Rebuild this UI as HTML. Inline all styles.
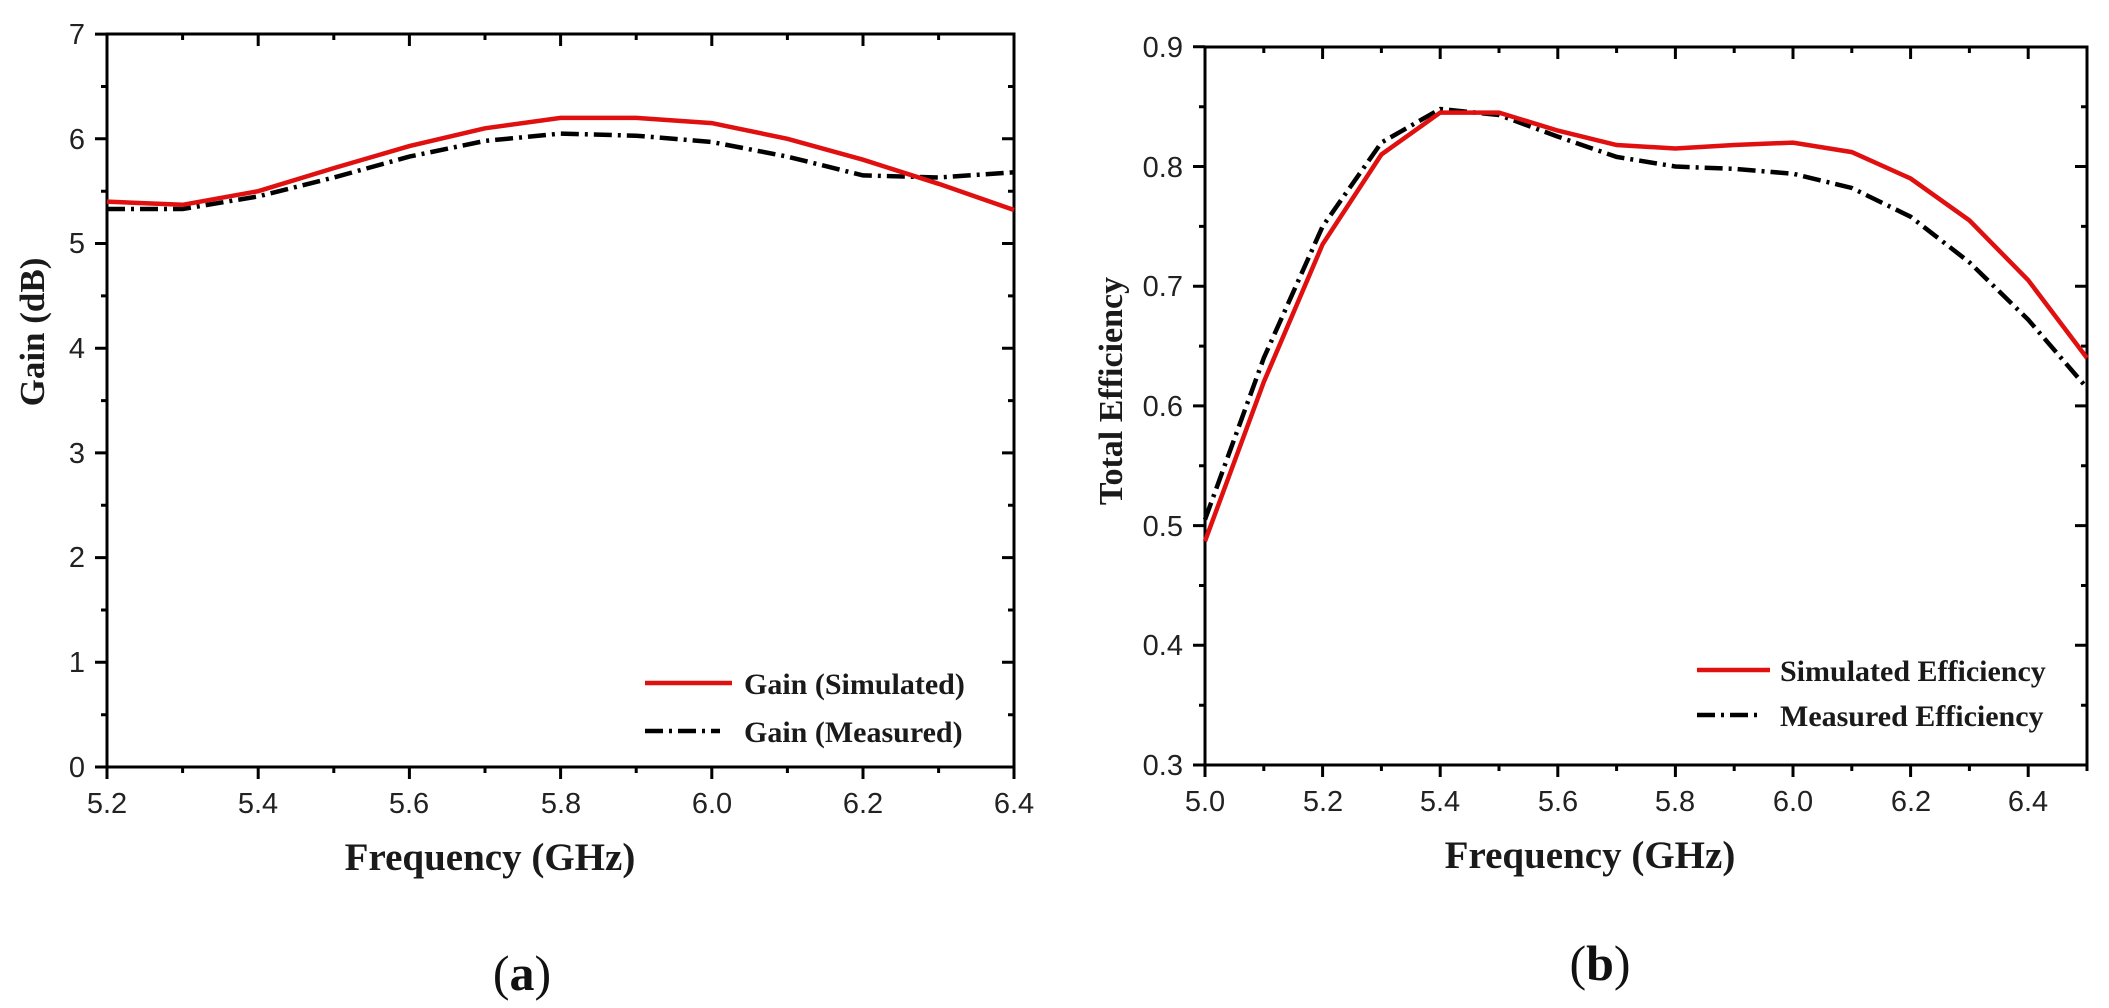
<!DOCTYPE html>
<html><head><meta charset="utf-8"><style>
html,body{margin:0;padding:0;background:#fff}
svg{display:block}
.t{font-family:"Liberation Sans",Arial,sans-serif;font-size:29px;fill:#222}
.b{font-family:"Liberation Serif","Times New Roman",serif;font-weight:bold;fill:#1a1a1a}
</style></head><body>
<svg width="2109" height="1008" viewBox="0 0 2109 1008" xmlns="http://www.w3.org/2000/svg">
<!-- LEFT PLOT -->
<g fill="none" stroke="#000" stroke-width="3">
<rect x="107" y="34" width="907" height="733"/>
<path d="M95 767H107M95 662.3H107M95 557.6H107M95 452.9H107M95 348.2H107M95 243.5H107M95 138.8H107M95 34.1H107
M101 714.7H107M101 610H107M101 505.3H107M101 400.6H107M101 295.9H107M101 191.2H107M101 86.5H107
M1014 662.3H1002M1014 557.6H1002M1014 452.9H1002M1014 348.2H1002M1014 243.5H1002M1014 138.8H1002
M1014 714.7H1008M1014 610H1008M1014 505.3H1008M1014 400.6H1008M1014 295.9H1008M1014 191.2H1008M1014 86.5H1008
M107 767V779M258.2 767V779M409.4 767V779M560.6 767V779M711.8 767V779M863 767V779M1014 767V779
M182.6 767V773M333.8 767V773M485 767V773M636.2 767V773M787.4 767V773M938.6 767V773
M258.2 34V46M409.4 34V46M560.6 34V46M711.8 34V46M863 34V46
M182.6 34V40M333.8 34V40M485 34V40M636.2 34V40M787.4 34V40M938.6 34V40"/>
</g>
<g class="t" text-anchor="end">
<text x="85" y="777">0</text><text x="85" y="672">1</text><text x="85" y="567">2</text><text x="85" y="463">3</text><text x="85" y="358">4</text><text x="85" y="253">5</text><text x="85" y="149">6</text><text x="85" y="44">7</text>
</g>
<g class="t" text-anchor="middle">
<text x="107" y="813">5.2</text><text x="258" y="813">5.4</text><text x="409" y="813">5.6</text><text x="561" y="813">5.8</text><text x="712" y="813">6.0</text><text x="863" y="813">6.2</text><text x="1014" y="813">6.4</text>
</g>
<polyline fill="none" stroke="#000" stroke-width="4.5" stroke-dasharray="18,6,3,6" points="107,209 182.6,209 258.2,196.4 333.8,177.5 409.4,156.6 485,140.9 560.6,133.6 636.2,135.7 711.8,142 787.4,156.6 863,175.4 938.6,177.5 1014,172.3"/>
<polyline fill="none" stroke="#e01010" stroke-width="4.5" points="107,201.6 182.6,204.8 258.2,191.2 333.8,168.1 409.4,146.1 485,128.3 560.6,117.9 636.2,117.9 711.8,123.1 787.4,138.8 863,159.7 938.6,183.8 1014,210"/>
<line x1="645" y1="683" x2="732" y2="683" stroke="#e01010" stroke-width="4.5"/>
<line x1="645" y1="731" x2="720" y2="731" stroke="#000" stroke-width="4.5" stroke-dasharray="18,6,3,6"/>
<text class="b" x="744" y="694" font-size="30">Gain (Simulated)</text>
<text class="b" x="744" y="742" font-size="30">Gain (Measured)</text>
<text class="b" x="490" y="870" font-size="39" text-anchor="middle">Frequency (GHz)</text>
<text class="b" x="0" y="0" font-size="35" text-anchor="middle" transform="translate(44,332) rotate(-90)">Gain (dB)</text>
<text x="522" y="990" font-size="50" text-anchor="middle" font-family="'Liberation Serif',serif" fill="#111">(<tspan font-weight="bold">a</tspan>)</text>

<!-- RIGHT PLOT -->
<g fill="none" stroke="#000" stroke-width="3">
<rect x="1205" y="47" width="882" height="718"/>
<path d="M1193 765H1205M1193 645.3H1205M1193 525.6H1205M1193 405.9H1205M1193 286.2H1205M1193 166.5H1205M1193 46.8H1205
M1199 705.2H1205M1199 585.5H1205M1199 465.8H1205M1199 346.1H1205M1199 226.4H1205M1199 106.7H1205
M2087 645.3H2075M2087 525.6H2075M2087 405.9H2075M2087 286.2H2075M2087 166.5H2075
M2087 705.2H2081M2087 585.5H2081M2087 465.8H2081M2087 346.1H2081M2087 226.4H2081M2087 106.7H2081
M1205 765V777M1322.6 765V777M1440.2 765V777M1557.8 765V777M1675.4 765V777M1793 765V777M1910.6 765V777M2028.2 765V777
M1263.8 765V771M1381.4 765V771M1499 765V771M1616.6 765V771M1734.2 765V771M1851.8 765V771M1969.4 765V771M2087 765V771
M1322.6 47V59M1440.2 47V59M1557.8 47V59M1675.4 47V59M1793 47V59M1910.6 47V59M2028.2 47V59
M1263.8 47V53M1381.4 47V53M1499 47V53M1616.6 47V53M1734.2 47V53M1851.8 47V53M1969.4 47V53"/>
</g>
<g class="t" text-anchor="end">
<text x="1183" y="775">0.3</text><text x="1183" y="655">0.4</text><text x="1183" y="536">0.5</text><text x="1183" y="416">0.6</text><text x="1183" y="296">0.7</text><text x="1183" y="177">0.8</text><text x="1183" y="57">0.9</text>
</g>
<g class="t" text-anchor="middle">
<text x="1205" y="811">5.0</text><text x="1323" y="811">5.2</text><text x="1440" y="811">5.4</text><text x="1558" y="811">5.6</text><text x="1675" y="811">5.8</text><text x="1793" y="811">6.0</text><text x="1911" y="811">6.2</text><text x="2028" y="811">6.4</text>
</g>
<polyline fill="none" stroke="#000" stroke-width="4.5" stroke-dasharray="18,6,3,6" points="1205,519.6 1263.8,358 1322.6,226.4 1381.4,142.6 1440.2,109 1499,115 1557.8,136.6 1616.6,156.9 1675.4,166.5 1734.2,168.9 1793,173.7 1851.8,188 1910.6,216.7 1969.4,262.3 2028.2,319.7 2087,388"/>
<polyline fill="none" stroke="#e01010" stroke-width="4.5" points="1205,541.2 1263.8,382 1322.6,244.3 1381.4,154.5 1440.2,112.6 1499,112.6 1557.8,130.6 1616.6,145 1675.4,148.5 1734.2,145 1793,142.6 1851.8,152.1 1910.6,178.5 1969.4,220.4 2028.2,280.2 2087,358"/>
<line x1="1697" y1="670" x2="1770" y2="670" stroke="#e01010" stroke-width="4.5"/>
<line x1="1697" y1="715" x2="1762" y2="715" stroke="#000" stroke-width="4.5" stroke-dasharray="18,6,3,6"/>
<text class="b" x="1780" y="681" font-size="30">Simulated Efficiency</text>
<text class="b" x="1780" y="726" font-size="30">Measured Efficiency</text>
<text class="b" x="1590" y="868" font-size="39" text-anchor="middle">Frequency (GHz)</text>
<text class="b" x="0" y="0" font-size="34" text-anchor="middle" transform="translate(1122,391) rotate(-90)">Total Efficiency</text>
<text x="1600" y="980" font-size="50" text-anchor="middle" font-family="'Liberation Serif',serif" fill="#111">(<tspan font-weight="bold">b</tspan>)</text>
</svg>
</body></html>
